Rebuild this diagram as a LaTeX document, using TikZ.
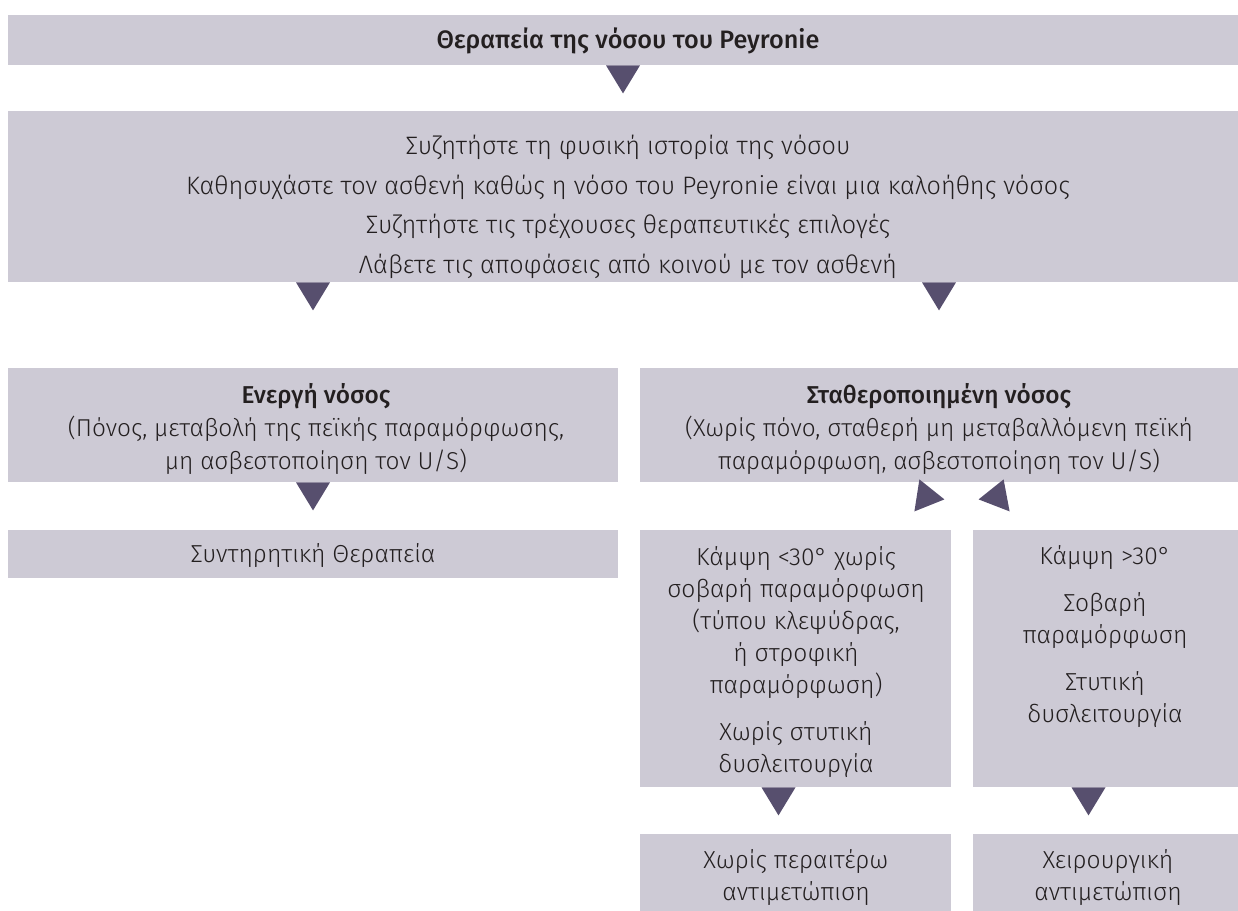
\documentclass[tikz,border=0pt]{standalone}
\usepackage{fontspec}
\setmainfont{Fira Sans Light}[BoldFont={Fira Sans Medium}]
\usetikzlibrary{fit}
\definecolor{BoxFill}{HTML}{CDCAD5}
\definecolor{TipFill}{HTML}{574F6E}
\definecolor{TextInk}{HTML}{231F20}
\tikzset{
    Box/.style={fill=BoxFill, draw=none, inner sep=0pt},
    Txt/.style={align=center, inner sep=0pt, text=TextInk, font=\fontsize{12.3}{16}\selectfont},
}
\newcommand\GrayBox[3]{%
    \node[Box, fit={#2 #3}] (#1) {};
}
\newcommand\DownTip[1]{%
    \fill[TipFill] (#1) ++(-17,0) -- ++(34,0) -- ++(-17,28) -- cycle;
}

\begin{document}
\begin{tikzpicture}[x=0.5pt, y=-0.5pt]
    \useasboundingbox (0,0) rectangle (1238,911);
    % boxes
    \GrayBox{title}{(8,15)}{(1238,65)}
    \GrayBox{info}{(8,111)}{(1238,282)}
    \GrayBox{active}{(8,368)}{(618,482)}
    \GrayBox{stable}{(640,368)}{(1238,482)}
    \GrayBox{cons}{(8,530)}{(618,578)}
    \GrayBox{bendlow}{(640,530)}{(951,787)}
    \GrayBox{bendhigh}{(973,530)}{(1238,787)}
    \GrayBox{nofurther}{(640,834)}{(951,911)}
    \GrayBox{surgery}{(973,834)}{(1238,911)}
    % texts
    \node[Txt, font=\fontsize{12.6}{16}\selectfont\bfseries] (titleT) at (628,41) {Θεραπεία της νόσου του Peyronie};
    \node[Txt, font=\fontsize{12.6}{19.75}\selectfont] (infoT) at (628,207) {Συζητήστε τη φυσική ιστορία της νόσου\\
        Καθησυχάστε τον ασθενή καθώς η νόσο του Peyronie είναι μια καλοήθης νόσος\\
        Συζητήστε τις τρέχουσες θεραπευτικές επιλογές\\
        Λάβετε τις αποφάσεις από κοινού με τον ασθενή};
    \node[Txt, font=\fontsize{12.2}{16.5}\selectfont] (activeT) at (316,429) {\textbf{Ενεργή νόσος}\\
        (Πόνος, μεταβολή της πεϊκής παραμόρφωσης,\\
        μη ασβεστοποίηση τον U/S)};
    \node[Txt, font=\fontsize{12.2}{16.5}\selectfont] (stableT) at (939,429) {\textbf{Σταθεροποιημένη νόσος}\\
        (Χωρίς πόνο, σταθερή μη μεταβαλλόμενη πεϊκή\\
        παραμόρφωση, ασβεστοποίηση τον U/S)};
    \node[Txt] (consT) at (313,556) {Συντηρητική Θεραπεία};
    \node[Txt] (bendlowT) at (796,662) {Κάμψη <30° χωρίς\\
        σοβαρή παραμόρφωση\\
        (τύπου κλεψύδρας,\\
        ή στροφική\\
        παραμόρφωση)\\[7.5pt]
        Χωρίς στυτική\\
        δυσλειτουργία};
    \node[Txt] (bendhighT) at (1105,637) {Κάμψη >30°\\[7.5pt]
        Σοβαρή\\
        παραμόρφωση\\[7.5pt]
        Στυτική\\
        δυσλειτουργία};
    \node[Txt] (nofurtherT) at (796,878) {Χωρίς περαιτέρω\\ αντιμετώπιση};
    \node[Txt] (surgeryT) at (1108,878) {Χειρουργική\\ αντιμετώπιση};
    % arrow tips
    \DownTip{title.south}
    \DownTip{info.south -| active.north}
    \DownTip{info.south -| stable.north}
    \DownTip{active.south}
    \DownTip{[xshift=-8.5pt]bendlow.south}
    \DownTip{[xshift=-8.5pt]bendhigh.south}
    \coordinate (gapL) at (bendlow.north east |- stable.south);
    \coordinate (gapR) at (bendhigh.north west |- stable.south);
    \fill[TipFill] (gapL) ++(-32,-3) -- ++(-5,32) -- ++(30,-12) -- cycle;
    \fill[TipFill] (gapR) ++(31,-3) -- ++(6,32) -- ++(-31,-12) -- cycle;
\end{tikzpicture}
\end{document}
